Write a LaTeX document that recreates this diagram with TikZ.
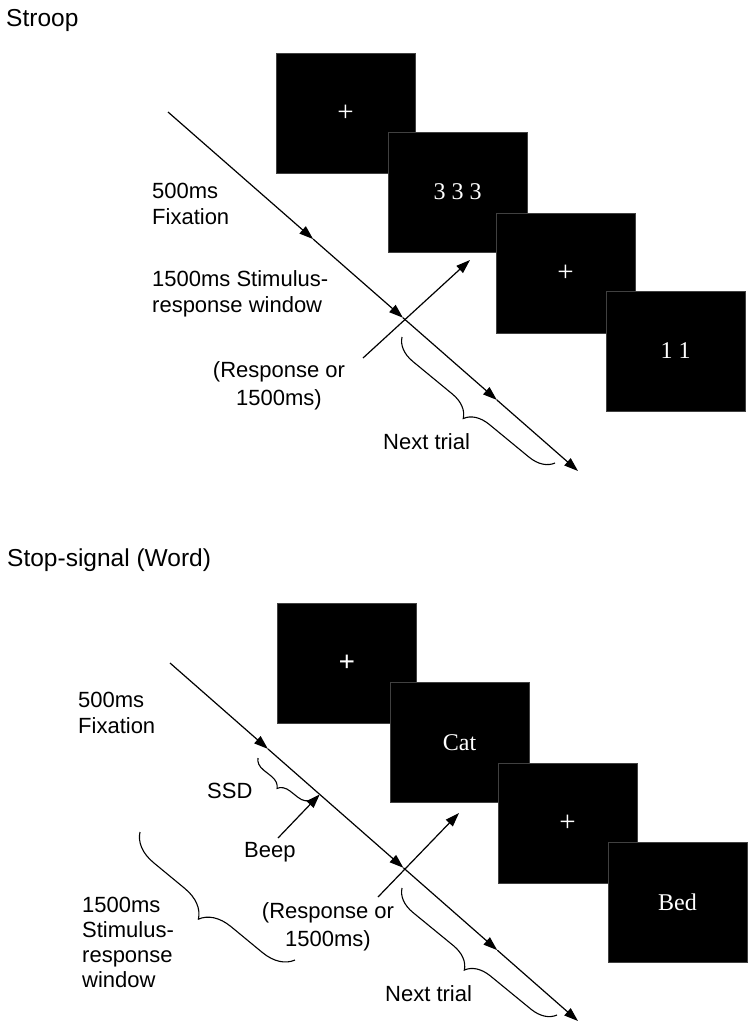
\documentclass[tikz,border=0pt]{standalone}
\usepackage{fontspec}
\setmainfont{Liberation Sans}
\newfontfamily\stimfont{Liberation Serif}
\usetikzlibrary{arrows.meta,decorations.pathreplacing,calc}
\begin{document}
\begin{tikzpicture}[x=1pt,y=-1pt,
  screen/.style={fill=black,draw=black!75,line width=0.6pt,minimum width=139pt,minimum height=120pt,inner sep=0pt,text=white,font=\stimfont\fontsize{24}{24}\selectfont},
  plusfont/.style={font=\stimfont\fontsize{29}{29}\selectfont},
  lbl/.style={font=\fontsize{22}{26}\selectfont,inner sep=0pt,align=left,anchor=base west},
  clbl/.style={font=\fontsize{22}{28}\selectfont,inner sep=0pt,align=center,anchor=base},
  ttl/.style={font=\fontsize{24.5}{28}\selectfont,inner sep=0pt,anchor=base west},
  tl/.style={line width=1.2pt,-{Triangle[length=14pt,width=9.5pt]}},
  brc/.style={line width=1.1pt,decorate,decoration={brace,amplitude=#1}},
]
\useasboundingbox (0,0) rectangle (754,1031);

% ================= Stroop =================
\node[ttl] (t1) at (6,26) {Stroop};

\node[screen,plusfont] (s11) at (345.5,113) {+};
\node[screen] (s12) at (457.5,192) {3 3 3};
\node[screen,plusfont] (s13) at (565.5,273) {+};
\node[screen] (s14) at (675.5,351) {1 1};

\coordinate (m1s) at (168,112);
\coordinate (m1e) at (578,471);
\coordinate (m1a) at ($(m1s)!0.354!(m1e)$);
\coordinate (m1b) at ($(m1s)!0.573!(m1e)$);
\coordinate (m1c) at ($(m1s)!0.802!(m1e)$);
\draw[tl] (m1s) -- (m1a);
\draw[tl] (m1a) -- (m1b);
\draw[tl] (m1b) -- (m1c);
\draw[tl] (m1c) -- (m1e);

\coordinate (r1s) at (363,358);
\coordinate (r1e) at (470,260);
\draw[tl] (r1s) -- (r1e);

\coordinate (n1a) at (402,337);
\coordinate (n1b) at (555,463);
\draw[brc=24pt] (n1b) -- (n1a);

\node[lbl] (l11) at (152,224) {500ms\\Fixation};
\node[lbl] (l12) at (152,312) {1500ms Stimulus-\\response window};
\node[clbl] (l13) at (279,405) {(Response or\\1500ms)};
\node[lbl] (l14) at (383,449) {Next trial};

% ================= Stop-signal =================
\node[ttl] (t2) at (7,566) {Stop-signal (Word)};

\node[screen,font=\stimfont\bfseries\fontsize{29}{29}\selectfont] (s21) at (347,663.5) {+};
\node[screen] (s22) at (459.5,742.5) {Cat};
\node[screen,plusfont] (s23) at (567.5,823.5) {+};
\node[screen] (s24) at (677.5,902.5) {Bed};

\coordinate (m2s) at (170,663);
\coordinate (m2e) at (578,1021);
\coordinate (m2a) at ($(m2s)!0.24!(m2e)$);
\coordinate (m2p) at ($(m2s)!0.367!(m2e)$);
\coordinate (m2b) at ($(m2s)!0.572!(m2e)$);
\coordinate (m2c) at ($(m2s)!0.802!(m2e)$);
\draw[tl] (m2s) -- (m2a);
\draw[line width=1.2pt] (m2a) -- (m2p);
\draw[tl] (m2p) -- (m2b);
\draw[tl] (m2b) -- (m2c);
\draw[tl] (m2c) -- (m2e);

\coordinate (bp) at (278,838);
\draw[tl] (bp) -- (m2p);

\coordinate (r2s) at (378,897);
\coordinate (r2e) at (459,813);
\draw[tl] (r2s) -- (r2e);

\coordinate (ssa) at (258,758);
\coordinate (ssb) at (311,800);
\draw[brc=12pt] (ssb) -- (ssa);

\coordinate (wa) at (140,832);
\coordinate (wb) at (295,960);
\draw[brc=30pt] (wb) -- (wa);

\coordinate (n2a) at (402,888);
\coordinate (n2b) at (557,1015);
\draw[brc=24pt] (n2b) -- (n2a);

\node[lbl] (l21) at (78,733) {500ms\\Fixation};
\node[lbl] (l22) at (207,798) {SSD};
\node[lbl] (l23) at (244,857) {Beep};
\node[lbl,font=\fontsize{22}{25}\selectfont] (l24) at (82,987) {1500ms\\Stimulus-\\response\\window};
\node[clbl] (l25) at (328,946) {(Response or\\1500ms)};
\node[lbl] (l26) at (385,1001) {Next trial};
\end{tikzpicture}
\end{document}
